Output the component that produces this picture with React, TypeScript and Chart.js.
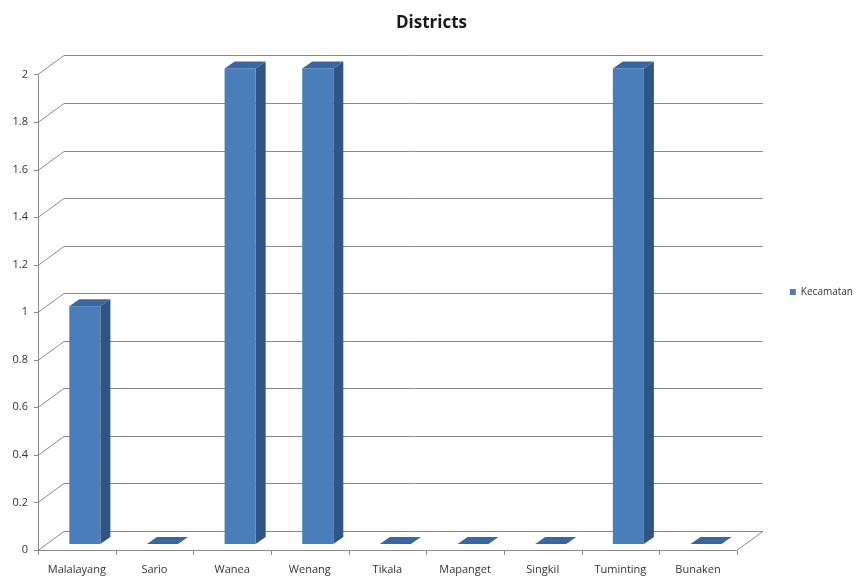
import React, { useEffect, useRef } from "react";
import { Chart, registerables } from "chart.js";
Chart.register(...registerables);

const categories = ["Malalayang", "Sario", "Wanea", "Wenang", "Tikala", "Mapanget", "Singkil", "Tuminting", "Bunaken"];
const kecamatan = [1, 0, 2, 2, 0, 0, 0, 2, 0];
const seriesName = "Kecamatan";
const titleText = "Districts";
const yMin = 0;
const yMax = 2;
const yStep = 0.2;

const WALL_DX = 26;
const WALL_DY = 19;
const BAR_OFF_X = 8;
const BAR_OFF_Y = -6;
const BAR_DX = 10;
const BAR_DY = 7;
const FRONT = "#4a7ebb";
const SIDE = "#2e5583";
const TOP = "#3a679f";
const GRID = "#8a8a8a";

const threeD = {
  id: "threeD",
  beforeDatasetsDraw(chart: any) {
    const { ctx, chartArea } = chart;
    const y = chart.scales.y;
    const x = chart.scales.x;
    const L = chartArea.left;
    const R = chartArea.right;
    const B = chartArea.bottom;
    ctx.save();
    ctx.strokeStyle = GRID;
    ctx.lineWidth = 1;
    y.ticks.forEach((t: any) => {
      const py = Math.round(y.getPixelForValue(t.value)) + 0.5;
      ctx.beginPath();
      ctx.moveTo(L - 4, py);
      ctx.lineTo(L, py);
      ctx.lineTo(L + WALL_DX, py - WALL_DY);
      ctx.lineTo(R + WALL_DX, py - WALL_DY);
      ctx.stroke();
    });
    const top = Math.round(y.getPixelForValue(yMax)) + 0.5;
    ctx.beginPath();
    ctx.moveTo(L + 0.5, top);
    ctx.lineTo(L + 0.5, B + 0.5);
    ctx.lineTo(R, B + 0.5);
    ctx.lineTo(R + WALL_DX, B + 0.5 - WALL_DY);
    ctx.stroke();
    const n = categories.length;
    const cw = x.getPixelForValue(1) - x.getPixelForValue(0);
    for (let i = 0; i <= n; i++) {
      const px = Math.round(x.getPixelForValue(0) - cw / 2 + i * cw) + 0.5;
      ctx.beginPath();
      ctx.moveTo(px, B + 0.5);
      ctx.lineTo(px, B + 5);
      ctx.stroke();
    }
    ctx.restore();
  },
  beforeDatasetDraw() {
    return false;
  },
  afterDatasetsDraw(chart: any) {
    const { ctx } = chart;
    const meta = chart.getDatasetMeta(0);
    ctx.save();
    meta.data.forEach((bar: any) => {
      const p = bar.getProps(["x", "y", "base", "width"], true);
      const l = p.x - p.width / 2 + BAR_OFF_X;
      const r = p.x + p.width / 2 + BAR_OFF_X;
      const t = p.y + BAR_OFF_Y;
      const b = p.base + BAR_OFF_Y;
      ctx.fillStyle = SIDE;
      ctx.beginPath();
      ctx.moveTo(r, t);
      ctx.lineTo(r + BAR_DX, t - BAR_DY);
      ctx.lineTo(r + BAR_DX, b - BAR_DY);
      ctx.lineTo(r, b);
      ctx.closePath();
      ctx.fill();
      ctx.fillStyle = TOP;
      ctx.beginPath();
      ctx.moveTo(l, t);
      ctx.lineTo(l + BAR_DX, t - BAR_DY);
      ctx.lineTo(r + BAR_DX, t - BAR_DY);
      ctx.lineTo(r, t);
      ctx.closePath();
      ctx.fill();
      if (b - t > 0.5) {
        ctx.fillStyle = FRONT;
        ctx.fillRect(l, t, r - l, b - t);
      }
    });
    ctx.restore();
  },
};

export default function App() {
  const ref = useRef<HTMLCanvasElement | null>(null);
  useEffect(() => {
    if (!ref.current) return;
    const chart = new Chart(ref.current, {
      type: "bar",
      data: {
        labels: categories,
        datasets: [
          {
            label: seriesName,
            data: kecamatan,
            backgroundColor: FRONT,
            borderWidth: 0,
            barPercentage: 0.4,
            categoryPercentage: 1,
          },
        ],
      },
      options: {
        animation: false,
        responsive: false,
        maintainAspectRatio: false,
        layout: { padding: { left: 0, right: 0, top: 0, bottom: 0 } },
        plugins: {
          title: {
            display: true,
            text: titleText,
            color: "#1a1a1a",
            font: { family: "Open Sans", size: 17, weight: "bold" },
            padding: { top: 13, bottom: 41 },
          },
          legend: {
            display: true,
            position: "right",
            labels: {
              boxWidth: 6,
              boxHeight: 6,
              padding: 4,
              color: "#333",
              font: { family: "Open Sans", size: 10 },
            },
          },
          tooltip: { enabled: false },
        },
        scales: {
          x: {
            grid: { display: false, drawTicks: false },
            border: { display: false },
            ticks: { color: "#333", padding: 13, font: { family: "Open Sans", size: 11 }, maxRotation: 0 },
            afterFit: (s: any) => { s.height = 34; },
          },
          y: {
            min: yMin,
            max: yMax,
            grid: { display: false, drawTicks: false },
            border: { display: false },
            ticks: {
              stepSize: yStep,
              color: "#333",
              padding: 10,
              font: { family: "Open Sans", size: 11 },
              callback: (v: any) => String(parseFloat(Number(v).toFixed(1))),
            },
            afterFit: (s: any) => { s.width = 38; },
          },
          y2: {
            position: "right",
            min: yMin,
            max: yMax,
            grid: { display: false, drawTicks: false },
            border: { display: false },
            ticks: { display: false },
            afterFit: (s: any) => { s.width = 49; },
          },
        },
      },
      plugins: [threeD],
    });
    return () => chart.destroy();
  }, []);
  return (
    <div style={{ position: "fixed", left: 0, top: 0, width: 863, height: 584, background: "#fff" }}>
      <canvas ref={ref} width={863} height={584} />
    </div>
  );
}
